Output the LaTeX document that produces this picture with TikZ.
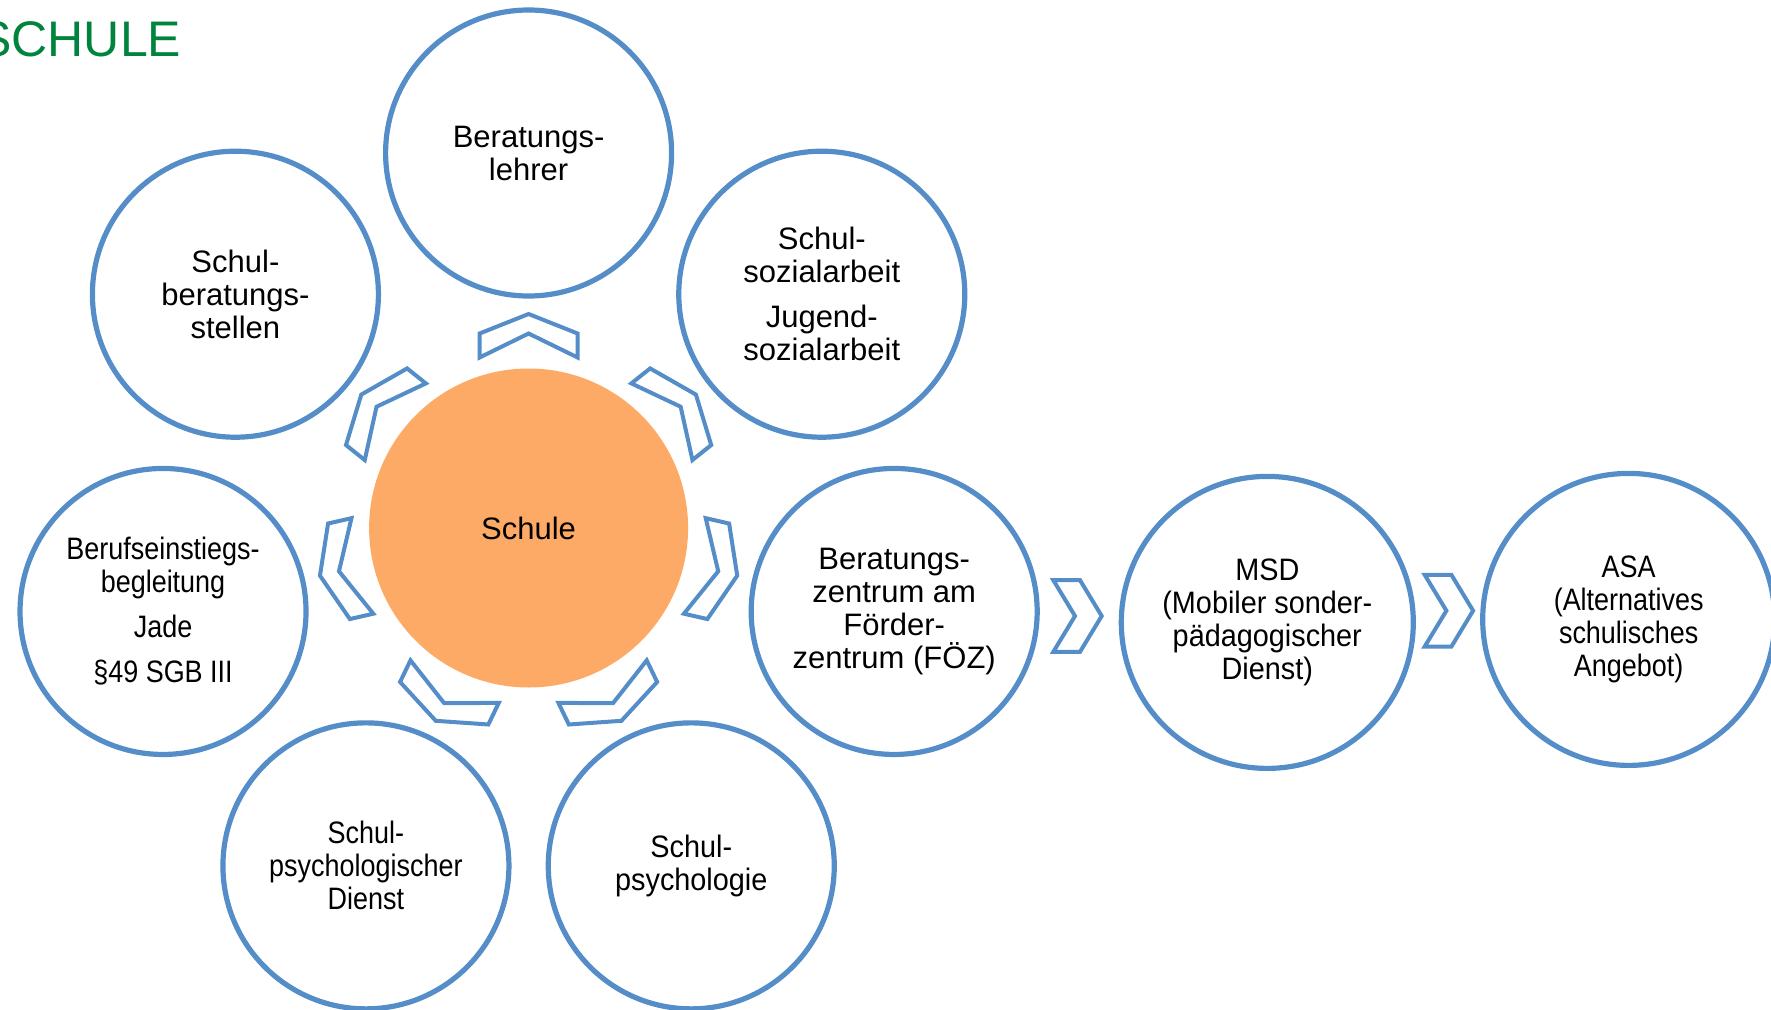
\documentclass[tikz,border=0pt]{standalone}
\usepackage{fontspec}
\setmainfont{Liberation Sans}
\newfontfamily\narrowA[FakeStretch=0.87]{Liberation Sans}
\newfontfamily\narrowB[FakeStretch=0.93]{Liberation Sans}
\usepackage{tikz}
\usetikzlibrary{positioning,calc}
\definecolor{ringblue}{RGB}{84,141,199}
\definecolor{schuleorange}{RGB}{252,170,102}
\definecolor{titlegreen}{RGB}{0,132,61}
\tikzset{
  ring/.style={circle, draw=ringblue, line width=2.6pt, minimum size=143pt, inner sep=0pt,
    align=center, font=\fontsize{15.5}{16.5}\selectfont},
  ringA/.style={ring, font=\narrowA\fontsize{15.5}{16.5}\selectfont},
  ringB/.style={ring, font=\narrowB\fontsize{15.5}{16.5}\selectfont},
  chev/.style={draw=ringblue, line width=2pt, line join=miter},
}

\begin{document}
\begin{tikzpicture}[x=0.5pt,y=0.5pt]
    \clip (0,0) rectangle (1771,1009);
    \node[anchor=base west, inner sep=0pt, text=titlegreen, font=\fontsize{25}{30}\selectfont] (title) at (-22,952) {SCHULE};
    % centre
    \node[circle, fill=schuleorange, minimum size=159.5pt, inner sep=0pt, font=\fontsize{15.5}{16.5}\selectfont] (schule) at (528.6,481) {Schule};
    % circles round the centre
    \node[ring] (berlehrer) at ([shift={(90:375)}]schule) {Beratungs-\\lehrer};
    \node[ring] (berstellen) at ([shift={(141.43:375)}]schule) {Schul-\\beratungs-\\stellen};
    \node[ringA] (berufs) at ([shift={(192.86:375)}]schule) {Berufseinstiegs-\\begleitung\\[6pt]Jade\\[6pt]\S49 SGB III};
    \node[ringA] (spdienst) at ([shift={(244.29:375)}]schule) {Schul-\\psychologischer\\Dienst};
    \node[ringB] (spsych) at ([shift={(295.71:375)}]schule) {Schul-\\psychologie};
    \node[ring] (bzfoez) at ([shift={(347.14:375)}]schule) {Beratungs-\\zentrum am\\Förder-\\zentrum (FÖZ)};
    \node[ring] (sozarb) at ([shift={(38.57:375)}]schule) {Schul-\\sozialarbeit\\[6pt]Jugend-\\sozialarbeit};
    % row to the right
    \node[ringB, minimum size=146pt] (msd) at (1267.3,386.6) {MSD\\(Mobiler sonder-\\pädagogischer\\Dienst)};
    \node[ringA, minimum size=146pt] (asa) at (1628.7,389.6) {ASA\\(Alternatives\\schulisches\\Angebot)};
    % chevrons
    \foreach \i in {0,...,6}
        \draw[chev, shift={(schule)}, rotate={90+\i*360/7}] (214,0) -- (194.5,49) -- (170.5,49) -- (194.5,0) -- (170.5,-49) -- (194.5,-49) -- cycle;
    \foreach \p in {(1077.5,393),(1448.9,398.3)}
        \draw[chev, shift={\p}] (-24.2,35.85) -- (2.5,35.85) -- (24.2,0) -- (2.5,-35.85) -- (-24.2,-35.85) -- (-2.5,0) -- cycle;
\end{tikzpicture}
\end{document}
